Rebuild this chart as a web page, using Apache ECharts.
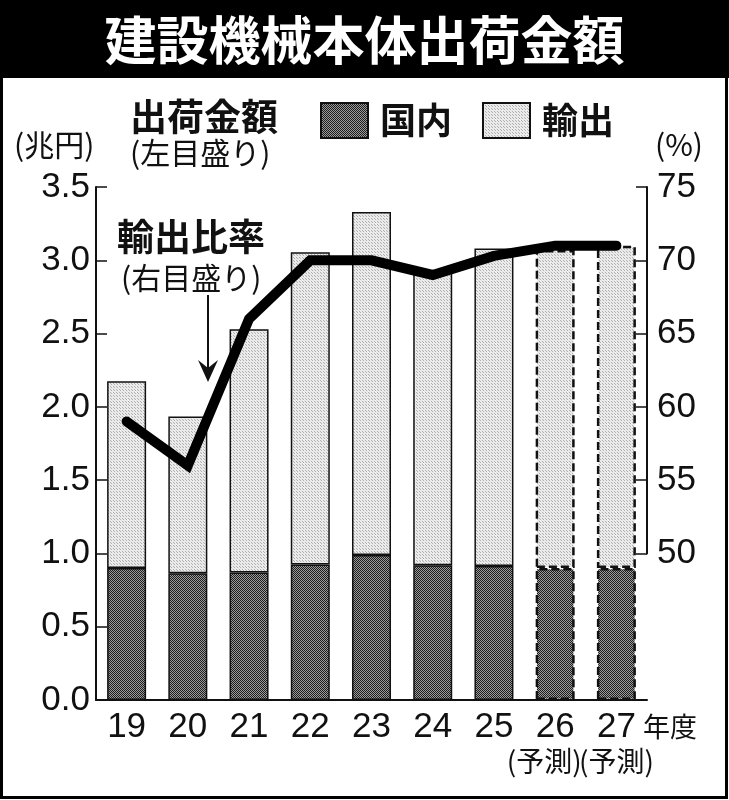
<!DOCTYPE html>
<html>
<head>
<meta charset="utf-8">
<script src="https://cdn.jsdelivr.net/npm/echarts@6/dist/echarts.min.js"></script>
<style>
html,body{margin:0;padding:0;background:#fff;}
#c{width:729px;height:800px;}
</style>
</head>
<body>
<div id="c"></div>
<script>
const categories = ['19','20','21','22','23','24','25','26','27'];
const forecast = [false,false,false,false,false,false,false,true,true];
const domestic = [0.90,0.865,0.87,0.925,0.99,0.92,0.915,0.90,0.90];
const totals = [2.175,1.935,2.53,3.055,3.33,2.925,3.08,3.07,3.10];
const exportRatio = [59,56,66,70,70,69,70.3,71,71];
const leftTicks = {min:0,max:3.5,interval:0.5};
const rightTicks = {min:50,max:75,interval:5};

const exportVals = totals.map((t,i)=>+(t-domestic[i]).toFixed(3));

function makePattern(cells, size){
  const cv=document.createElement('canvas');
  cv.width=size;cv.height=size;
  const ctx=cv.getContext('2d');
  for(let y=0;y<size;y++)for(let x=0;x<size;x++){
    ctx.fillStyle=cells[y][x];ctx.fillRect(x,y,1,1);
  }
  return {image:cv,repeat:'repeat'};
}
const darkPat = makePattern([['#1e1e1e','#9a9a9a'],['#9a9a9a','#1e1e1e']],2);
const lightPat = makePattern([['#b0b0b0','#eeeeee','#e8e8e8'],['#eeeeee','#e2e2e2','#eeeeee'],['#e8e8e8','#eeeeee','#b0b0b0']],3);

const FONT = "'Liberation Sans','Noto Sans CJK JP',sans-serif";
const CJK = "'Noto Sans CJK JP','Liberation Sans',sans-serif";

function barData(vals){
  return vals.map((v,i)=>({
    value:v,
    itemStyle: forecast[i] ? {borderType:[8,4],borderColor:'#111',borderWidth:2.5} : {}
  }));
}

const chart = echarts.init(document.getElementById('c'));
const gridTop = 187, gridH = 513;
const option = {
  animation:false,
  backgroundColor:'#fff',
  textStyle:{fontFamily:FONT,color:'#111'},
  grid:[
    {left:96,right:82,top:gridTop,height:gridH},
    {left:96,right:82,top:gridTop,height:gridH*(rightTicks.max-rightTicks.min)/35}
  ],
  legend:{
    left:315, top:97,
    itemWidth:47, itemHeight:35, itemGap:30,
    icon:'rect',
    textStyle:{fontFamily:CJK,fontSize:36,fontWeight:'bold',color:'#111',padding:[0,0,0,7]},
    data:['国内','輸出']
  },
  xAxis:[
    {type:'category',gridIndex:0,data:categories,
     axisLine:{lineStyle:{color:'#111',width:2}},
     axisTick:{inside:true,length:10,lineStyle:{color:'#111',width:1.5}},
     axisLabel:{interval:0,margin:10,color:'#111',
       formatter:(v,i)=> forecast[i] ? (i===7 ? '{n|'+v+'}\n{p26|(予測)}' : '{n|'+v+'}\n{p|(予測)}') : '{n|'+v+'}',
       rich:{
         n:{fontFamily:FONT,fontSize:35,lineHeight:34,color:'#111'},
         p:{fontFamily:CJK,fontSize:28,lineHeight:34,color:'#111'},
         p26:{fontFamily:CJK,fontSize:28,lineHeight:34,color:'#111',padding:[0,22,0,0]}
       }}
    },
    {type:'category',gridIndex:1,data:categories,show:false}
  ],
  yAxis:[
    {type:'value',gridIndex:0,min:leftTicks.min,max:leftTicks.max,interval:leftTicks.interval,
     axisLine:{show:true,lineStyle:{color:'#111',width:2}},
     axisTick:{show:true,inside:true,length:11,lineStyle:{color:'#111',width:1.5}},
     splitLine:{show:false},
     axisLabel:{margin:6,fontSize:35,color:'#111',fontFamily:FONT,formatter:v=>v.toFixed(1)}
    },
    {type:'value',gridIndex:1,position:'right',min:rightTicks.min,max:rightTicks.max,interval:rightTicks.interval,
     axisLine:{show:true,lineStyle:{color:'#111',width:2}},
     axisTick:{show:true,inside:true,length:11,lineStyle:{color:'#111',width:1.5}},
     splitLine:{show:false},
     axisLabel:{margin:10,fontSize:35,color:'#111',fontFamily:FONT}
    }
  ],
  series:[
    {name:'国内',type:'bar',stack:'s',xAxisIndex:0,yAxisIndex:0,barWidth:39,
     itemStyle:{color:darkPat,borderColor:'#111',borderWidth:1.5},
     data:barData(domestic)},
    {name:'輸出',type:'bar',stack:'s',xAxisIndex:0,yAxisIndex:0,barWidth:39,
     itemStyle:{color:lightPat,borderColor:'#111',borderWidth:1.5},
     data:barData(exportVals)},
    {name:'輸出比率',type:'line',xAxisIndex:1,yAxisIndex:1,data:exportRatio,
     symbol:'none',clip:false,z:10,
     lineStyle:{color:'#000',width:10,cap:'round',join:'miter'}}
  ],
  graphic:[
    {type:'rect',shape:{x:0,y:0,width:729,height:78},style:{fill:'#000'},silent:true},
    {type:'rect',shape:{x:1.5,y:1.5,width:725,height:796},style:{fill:null,stroke:'#000',lineWidth:3},silent:true},
    {type:'text',x:364.5,y:40,style:{text:'建設機械本体出荷金額',fill:'#fff',font:'bold 52px '+CJK,align:'center',verticalAlign:'middle'}},
    {type:'text',x:130,y:117,style:{text:'出荷金額',fill:'#111',font:'bold 37px '+CJK,verticalAlign:'middle'}},
    {type:'text',x:130,y:153,style:{text:'(左目盛り)',fill:'#111',font:'30px '+CJK,verticalAlign:'middle'}},
    {type:'text',x:14,y:145,style:{text:'(兆円)',fill:'#111',font:'30px '+CJK,verticalAlign:'middle'}},
    {type:'text',x:655,y:145,style:{text:'(%)',fill:'#111',font:'30px '+CJK,verticalAlign:'middle'}},
    {type:'text',x:117,y:237,style:{text:'輸出比率',fill:'#111',font:'bold 37px '+CJK,verticalAlign:'middle'}},
    {type:'text',x:121,y:278,style:{text:'(右目盛り)',fill:'#111',font:'30px '+CJK,verticalAlign:'middle'}},
    {type:'line',shape:{x1:208,y1:295,x2:208,y2:370},style:{stroke:'#111',lineWidth:2}},
    {type:'polygon',shape:{points:[[198,360],[208,382],[218,360],[208,368]]},style:{fill:'#111'}},
    {type:'text',x:643,y:727,style:{text:'年度',fill:'#111',font:'27px '+CJK,verticalAlign:'middle'}}
  ]
};
chart.setOption(option);
</script>
</body>
</html>
